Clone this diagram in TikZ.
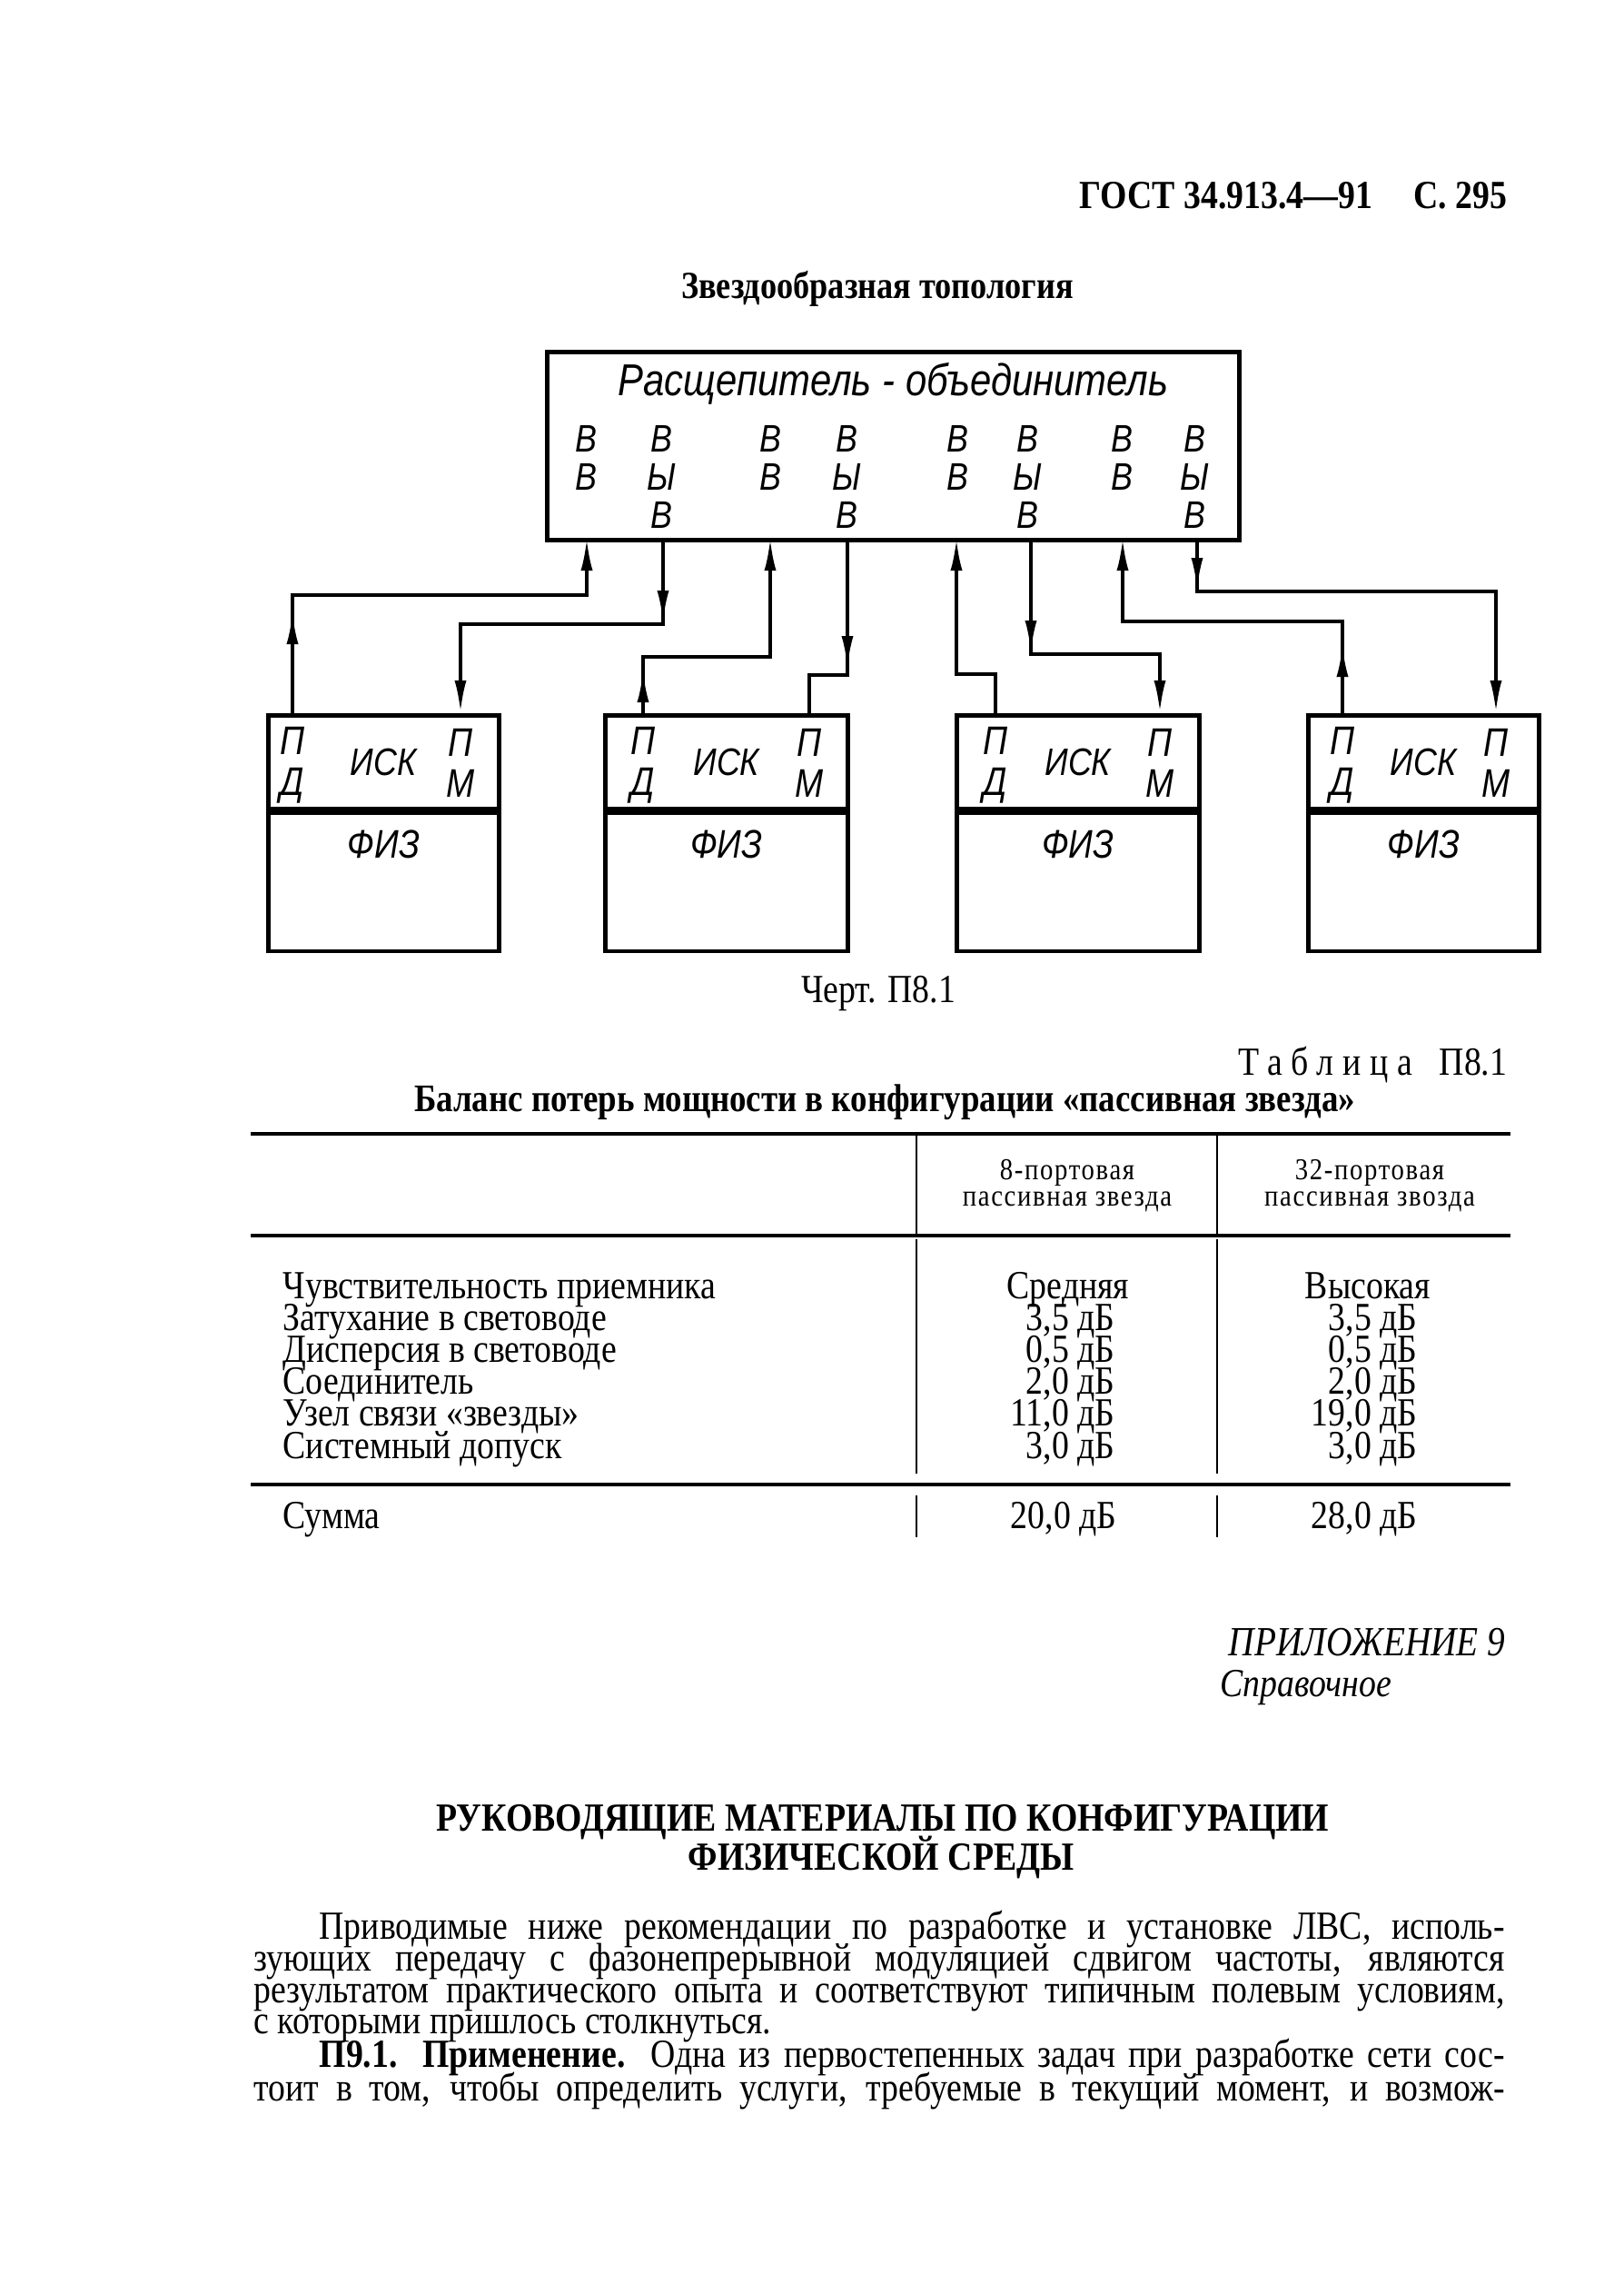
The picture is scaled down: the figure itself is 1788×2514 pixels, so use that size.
\documentclass[tikz,border=0pt]{standalone}
\usepackage{fontspec}
\setmainfont{Liberation Serif}[FakeStretch=0.86]
\newfontfamily\gostfont{Liberation Sans}[FakeStretch=0.85]
\usetikzlibrary{arrows.meta, positioning, decorations.markings}

\newcommand{\txtsize}{\fontsize{12.5pt}{13pt}\selectfont}
\newcommand{\hdrsize}{\fontsize{9.5pt}{8.3pt}\selectfont}
\newcommand{\gostsize}{\fontsize{12.5pt}{12.8pt}\selectfont}

\tikzset{
    txt/.style={inner sep=0pt, font=\txtsize, text height=2.4mm, text depth=0.6mm},
    glbl/.style={inner sep=0pt, font=\gostfont\itshape\gostsize},
    rule/.style={line width=1.3pt},
    vrule/.style={line width=0.5pt}
}

\begin{document}
\begin{tikzpicture}[
        x=0.1mm, y=-0.1mm,
        >={Latex[length=3.6mm,width=1.3mm]},
        boxline/.style={draw, line width=1.3pt, inner sep=0pt},
        split/.style={boxline, minimum width=76.2mm, minimum height=20.7mm},
        isk/.style={boxline, minimum height=10.3mm},
        fiz/.style={boxline, minimum height=15.2mm},
        conn/.style={line width=1.1pt, ->},
        plain/.style={line width=1.1pt},
        midtip/.style={
            postaction={decorate},
            decoration={markings, mark=at position #1 with {\arrow{>}}}
        }
    ]
    \fill[white] (0,0) rectangle (1788,2514);
    \useasboundingbox (0,0) rectangle (1788,2514);

    % page head
    \node[txt, anchor=east, font=\fontsize{12.5pt}{14pt}\selectfont\bfseries] (gost) at (1660,220)
        {ГОСТ 34.913.4—91\hspace{4.5mm}С.\ 295};
    \node[txt, font=\fontsize{12pt}{13pt}\selectfont\bfseries] (caption) at (966,319)
        {Звездообразная топология};

    % splitter / combiner
    \node[split, anchor=north west] (split) at (600,385) {};
    \node[glbl, below=1.4mm of split.north, font=\gostfont\itshape\fontsize{14pt}{14pt}\selectfont]
        (title) {Расщепитель - объединитель};
    \foreach \x/\t [count=\i] in {645/{В\\В}, 728/{В\\Ы\\В}, 848/{В\\В}, 932/{В\\Ы\\В},
                                  1054/{В\\В}, 1131/{В\\Ы\\В}, 1235/{В\\В}, 1315/{В\\Ы\\В}}
        \node[glbl, anchor=north, align=center, font=\gostfont\itshape\fontsize{12pt}{11.9pt}\selectfont]
            (v\i) at (\x,468) {\t};
    \foreach \x [count=\i] in {646, 730, 848, 933, 1053, 1135, 1236, 1318}
        \coordinate (s\i) at (\x,592);

    % stations
    \foreach \i/\xl/\w/\pl/\pr in {1/293/25.4/322/507, 2/664/26.7/708/891,
                                   3/1051/26.7/1096/1277, 4/1438/25.4/1478/1647} {
        \node[isk, minimum width=\w mm, anchor=north west] (isk\i) at (\xl,785) {};
        \node[fiz, minimum width=\w mm, anchor=north] (fiz\i) at (isk\i.south) {};
        \node[glbl, font=\gostfont\itshape\fontsize{12pt}{12pt}\selectfont] (il\i) at (isk\i.center) {ИСК};
        \node[glbl, below=2.1mm of fiz\i.north] (fl\i) {ФИЗ};
        \coordinate (pd\i) at (\pl,785);
        \coordinate (pm\i) at (\pr,785);
        \node[glbl, align=center] (pdl\i) at (\pl,842) {П\\Д};
        \node[glbl, align=center] (pml\i) at (\pr,840) {П\\М};
    }

    % bends
    \coordinate (h1) at (646,655);
    \coordinate (h2) at (507,687);
    \coordinate (h3) at (848,723);
    \coordinate (h4) at (891,743);
    \coordinate (h5) at (1053,742);
    \coordinate (h6) at (1277,720);
    \coordinate (h7) at (1236,684);
    \coordinate (h8) at (1647,651);

    \draw[conn, midtip=11.2mm] (pd1) |- (h1) -- (s1);
    \draw[conn, midtip=9.4mm] (s2) |- (h2) -- (pm1);
    \draw[conn, midtip=4.8mm] (pd2) |- (h3) -- (s3);
    \draw[plain, midtip=14.4mm] (s4) |- (h4) -- (pm2);
    \draw[conn] (pd3) |- (h5) -- (s5);
    \draw[conn, midtip=12.7mm] (s6) |- (h6) -- (pm3);
    \draw[conn, midtip=7.6mm] (pd4) |- (h7) -- (s7);
    \draw[conn, midtip=5.8mm] (s8) |- (h8) -- (pm4);

    \node[txt] (chert) at (967,1094) {Черт. П8.1};

    % table
    \node[txt, anchor=east] (tabno) at (1660,1174)
        {{\addfontfeature{LetterSpace=22}Таблица}\hspace{3mm}П8.1};
    \node[txt, font=\fontsize{12.2pt}{13pt}\selectfont\bfseries] (tabtitle) at (974,1214)
        {Баланс потерь мощности в конфигурации «пассивная звезда»};
    \draw[rule] (276,1248) -- (1663,1248);
    \draw[rule] (276,1360) -- (1663,1360);
    \draw[rule] (276,1634) -- (1663,1634);
    \foreach \x in {1009, 1340} {
        \draw[vrule] (\x,1250) -- (\x,1358);
        \draw[vrule] (\x,1364) -- (\x,1622);
        \draw[vrule] (\x,1646) -- (\x,1692);
    }
    \node[inner sep=0pt, align=center, font=\hdrsize\addfontfeature{LetterSpace=5}] (col8) at (1175,1305)
        {8-портовая\\пассивная звезда};
    \node[inner sep=0pt, align=center, font=\hdrsize\addfontfeature{LetterSpace=5}] (col32) at (1508,1305)
        {32-портовая\\пассивная звозда};

    \node[txt, anchor=west] (r1) at (311,1420) {Чувствительность приемника};
    \node[txt] (r1a) at (1176,1420) {Средняя};
    \node[txt] (r1b) at (1506,1420) {Высокая};
    \foreach \y/\a/\b/\c [count=\i from 2] in {1455/{Затухание в световоде}/{3,5}/{3,5},
                                               1490/{Дисперсия в световоде}/{0,5}/{0,5},
                                               1525/{Соединитель}/{2,0}/{2,0},
                                               1560/{Узел связи «звезды»}/{11,0}/{19,0},
                                               1596/{Системный допуск}/{3,0}/{3,0}} {
        \node[txt, anchor=west] (r\i) at (311,\y) {\a};
        \node[txt, anchor=east] (r\i a) at (1228,\y) {\b\ дБ};
        \node[txt, anchor=east] (r\i b) at (1561,\y) {\c\ дБ};
    }
    \node[txt, anchor=west] (sum) at (311,1673) {Сумма};
    \node[txt, anchor=east] (suma) at (1230,1673) {20,0 дБ};
    \node[txt, anchor=east] (sumb) at (1561,1673) {28,0 дБ};

    % appendix
    \node[txt, anchor=east, font=\fontsize{13pt}{14pt}\selectfont\itshape] (app) at (1658,1813) {ПРИЛОЖЕНИЕ 9};
    \node[txt, anchor=west, font=\txtsize\itshape] (ref) at (1343,1858) {Справочное};
    \node[txt, font=\fontsize{12.5pt}{14pt}\selectfont\bfseries] (head1) at (972,2006)
        {РУКОВОДЯЩИЕ МАТЕРИАЛЫ ПО КОНФИГУРАЦИИ};
    \node[txt, font=\fontsize{12.5pt}{14pt}\selectfont\bfseries] (head2) at (970,2049)
        {ФИЗИЧЕСКОЙ СРЕДЫ};

    \node[txt, anchor=west] (l1) at (351,2125)
        {\makebox[130.5mm][s]{Приводимые ниже рекомендации по разработке и установке ЛВС, исполь-}};
    \node[txt, anchor=west] (l2) at (279,2160)
        {\makebox[137.7mm][s]{зующих передачу с фазонепрерывной модуляцией сдвигом частоты, являются}};
    \node[txt, anchor=west] (l3) at (279,2195)
        {\makebox[137.7mm][s]{результатом практического опыта и соответствуют типичным полевым условиям,}};
    \node[txt, anchor=west] (l4) at (279,2229)
        {с которыми пришлось столкнуться.};
    \node[txt, anchor=west] (l5) at (351,2266)
        {\makebox[130.5mm][s]{\textbf{П9.1. Применение.} Одна из первостепенных задач при разработке сети сос-}};
    \node[txt, anchor=west] (l6) at (279,2303)
        {\makebox[137.7mm][s]{тоит в том, чтобы определить услуги, требуемые в текущий момент, и возмож-}};
\end{tikzpicture}
\end{document}
